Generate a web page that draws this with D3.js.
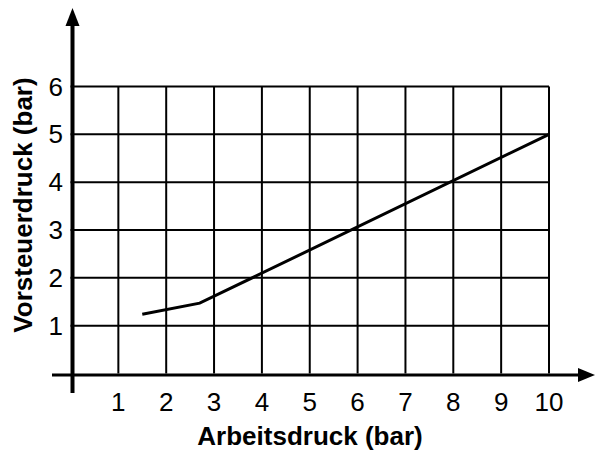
<!DOCTYPE html>
<html>
<head>
<meta charset="utf-8">
<script src="https://cdn.jsdelivr.net/npm/d3@7"></script>
<style>
  body { margin: 0; background: #fff; }
  svg { display: block; }
  text { font-family: "Liberation Sans", Arial, sans-serif; fill: #000; }
</style>
</head>
<body>
<svg id="chart" width="595" height="450"></svg>
<script>
// data
const xTicks = [1, 2, 3, 4, 5, 6, 7, 8, 9, 10];
const yTicks = [1, 2, 3, 4, 5, 6];
const curveX = [1.5, 2.7, 10];
const curveY = [1.24, 1.47, 5];
const xTitle = "Arbeitsdruck (bar)";
const yTitle = "Vorsteuerdruck (bar)";

const svg = d3.select("#chart");

const x = d3.scaleLinear().domain([0, 10]).range([70.5, 549]);
const y = d3.scaleLinear().domain([0, 6]).range([373.5, 86.5]);

// grid
const grid = svg.append("g").attr("stroke", "#000").attr("stroke-width", 2);
grid.selectAll(".h")
  .data(yTicks)
  .join("line")
  .attr("x1", x(0))
  .attr("x2", x(10))
  .attr("y1", d => y(d))
  .attr("y2", d => y(d));
grid.selectAll(".v")
  .data(xTicks)
  .join("line")
  .attr("x1", d => x(d))
  .attr("x2", d => x(d))
  .attr("y1", y(6))
  .attr("y2", y(0));

// axes with arrows
svg.append("line")
  .attr("x1", 52).attr("x2", 582)
  .attr("y1", y(0) + 1.5).attr("y2", y(0) + 1.5)
  .attr("stroke", "#000").attr("stroke-width", 3);
svg.append("path")
  .attr("d", `M595,${y(0) + 1.5} L578,${y(0) - 5.5} L578,${y(0) + 8.5} Z`)
  .attr("fill", "#000");

svg.append("line")
  .attr("x1", 72.5).attr("x2", 72.5)
  .attr("y1", 393).attr("y2", 24)
  .attr("stroke", "#000").attr("stroke-width", 4);
svg.append("path")
  .attr("d", "M72.5,8 L65.5,26 L79.5,26 Z")
  .attr("fill", "#000");

// tick labels
svg.selectAll(".xt")
  .data(xTicks)
  .join("text")
  .attr("x", d => x(d))
  .attr("y", 411)
  .attr("text-anchor", "middle")
  .attr("font-size", 26)
  .text(d => d);

svg.selectAll(".yt")
  .data(yTicks)
  .join("text")
  .attr("x", 63)
  .attr("y", d => y(d) + 9)
  .attr("text-anchor", "end")
  .attr("font-size", 26)
  .text(d => d);

// titles
svg.append("text")
  .attr("x", 310)
  .attr("y", 445)
  .attr("text-anchor", "middle")
  .attr("font-size", 26)
  .attr("font-weight", "bold")
  .text(xTitle);

svg.append("text")
  .attr("transform", "translate(32,205) rotate(-90)")
  .attr("text-anchor", "middle")
  .attr("font-size", 26)
  .attr("font-weight", "bold")
  .text(yTitle);

// curve
const pts = curveX.map((d, i) => [d, curveY[i]]);
svg.append("path")
  .datum(pts)
  .attr("fill", "none")
  .attr("stroke", "#000")
  .attr("stroke-width", 3)
  .attr("d", d3.line().x(d => x(d[0])).y(d => y(d[1])));
</script>
</body>
</html>
